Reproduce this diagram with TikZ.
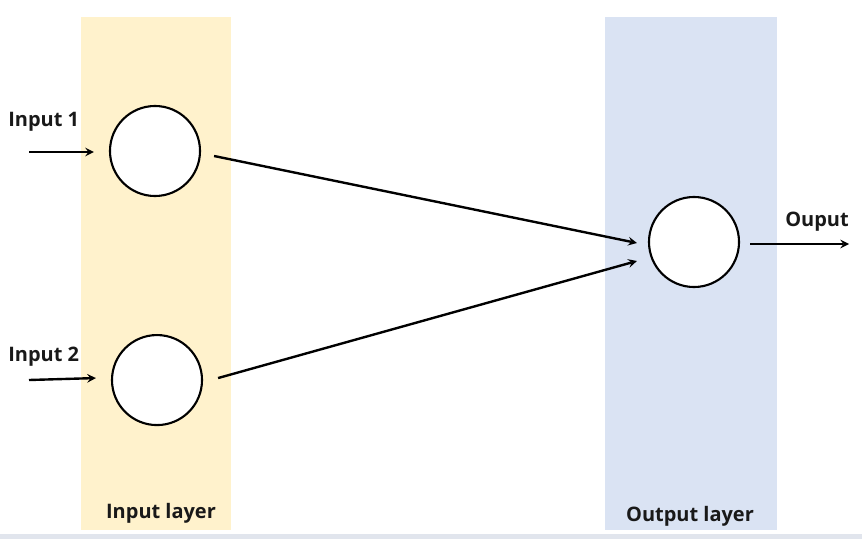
\documentclass[tikz,border=0pt]{standalone}
\usepackage{fontspec}
\setmainfont{Open Sans}
\usetikzlibrary{arrows, calc}
\definecolor{inband}{HTML}{FFF2CC}
\definecolor{outband}{HTML}{DAE3F3}
\definecolor{edgeband}{HTML}{E1E5ED}
\tikzstyle{layer} = [rectangle, minimum height=12.825cm, inner sep=0pt, draw=none]
\tikzstyle{neuron} = [circle, minimum size=2.25cm, inner sep=0pt, draw=black, line width=1.5pt, fill=white]
\tikzstyle{tag} = [font=\bfseries\fontsize{14.2}{17}\selectfont, inner sep=0pt, text=black!90]
\tikzstyle{arrow} = [line width=1.7pt,->,>=stealth]

\begin{document}
\begin{tikzpicture}[x=0.025cm, y=-0.025cm, node distance=5.725cm]
    \useasboundingbox (0,0) rectangle (862,539);
    \fill [edgeband] (0,534) rectangle (862,539);
    \node (inlayer) [layer, fill=inband, minimum width=3.75cm] at (156,273.5) {};
    \node (outlayer) [layer, fill=outband, minimum width=4.3cm] at (691,273.5) {};
    \node (intag) [tag, anchor=base] at (161,518) {Input layer};
    \node (outtag) [tag, anchor=base] at (690,521) {Output layer};
    \node (in1) [neuron] at (155,151) {};
    \node (in2) [neuron, below of=in1, xshift=0.05cm] {};
    \node (out) [neuron] at (694,242) {};
    \node (x1tag) [tag, anchor=base west] at (8,126) {Input 1};
    \node (x2tag) [tag, anchor=base west] at (8,361) {Input 2};
    \node (ytag) [tag, anchor=base] at (817,226) {Ouput};
    \coordinate (x1) at (29,152);
    \coordinate (x2) at (29,380);
    \coordinate (y) at (849,244);
    \draw [arrow] (x1) -- ($(in1.west)+(-15,1)$);
    \draw [arrow] (x2) -- ($(in2.west)+(-15,-2)$);
    \draw [arrow] ($(in1.east)+(13,5)$) -- ($(out.west)+(-11,1)$);
    \draw [arrow] ($(in2.east)+(15,-2)$) -- ($(out.west)+(-11,19)$);
    \draw [arrow] ($(out.east)+(10,2)$) -- (y);
   
\end{tikzpicture}
\end{document}
